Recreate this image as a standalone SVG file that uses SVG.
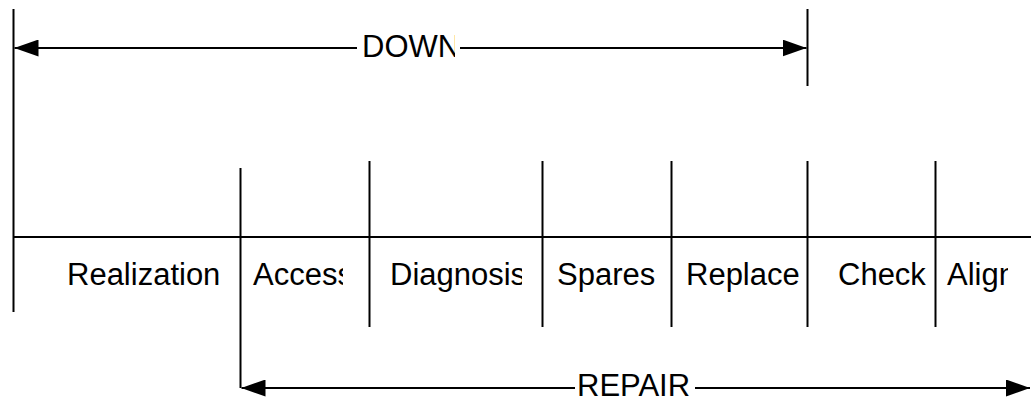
<svg xmlns="http://www.w3.org/2000/svg" width="1031" height="399" viewBox="0 0 1031 399">
  <style>
    .ln { stroke: #000; stroke-width: 2; fill: none; }
    .lbl { font-family: "Liberation Sans", Arial, sans-serif; font-size: 31px; fill: #000; }
  </style>
  <defs>
    <marker id="arrow" viewBox="0 0 24 17" refX="24" refY="8.5" markerWidth="24" markerHeight="17" markerUnits="userSpaceOnUse" orient="auto-start-reverse">
      <path d="M0,0 L24,8.5 L0,17 Z" fill="#000"/>
    </marker>
    <clipPath id="clip-down"><rect x="340" y="20" width="115" height="50"/></clipPath>
    <clipPath id="clip-access"><rect x="241" y="250" width="102" height="50"/></clipPath>
    <clipPath id="clip-diag"><rect x="370" y="250" width="152" height="50"/></clipPath>
    <clipPath id="clip-replace"><rect x="672" y="250" width="130" height="50"/></clipPath>
    <clipPath id="clip-align"><rect x="936" y="250" width="72" height="50"/></clipPath>
  </defs>

  <!-- time axis and phase dividers -->
  <g id="axis">
    <line class="ln" x1="13.5" y1="9" x2="13.5" y2="312"/>
    <line class="ln" x1="13.5" y1="237" x2="1031" y2="237"/>
    <line class="ln" x1="240.5" y1="168" x2="240.5" y2="388"/>
    <line class="ln" x1="369.5" y1="161" x2="369.5" y2="327"/>
    <line class="ln" x1="542.5" y1="161" x2="542.5" y2="327"/>
    <line class="ln" x1="671.5" y1="161" x2="671.5" y2="327"/>
    <line class="ln" x1="807.5" y1="9" x2="807.5" y2="86"/>
    <line class="ln" x1="807.5" y1="161" x2="807.5" y2="327"/>
    <line class="ln" x1="935.5" y1="161" x2="935.5" y2="327"/>
  </g>

  <!-- phase labels -->
  <g id="realization"><text class="lbl" x="67" y="285">Realization</text></g>
  <g id="access"><text class="lbl" x="253" y="285" clip-path="url(#clip-access)">Access</text></g>
  <g id="diagnosis"><text class="lbl" x="390" y="285" clip-path="url(#clip-diag)">Diagnosis</text></g>
  <g id="spares"><text class="lbl" x="557" y="285">Spares</text></g>
  <g id="replace"><text class="lbl" x="686" y="285" clip-path="url(#clip-replace)">Replace</text></g>
  <g id="check"><text class="lbl" x="838" y="285">Check</text></g>
  <g id="align"><text class="lbl" x="947" y="285" clip-path="url(#clip-align)">Align</text></g>

  <!-- span connectors -->
  <g id="connectors">
    <line class="ln" x1="357" y1="48" x2="14.5" y2="48" marker-end="url(#arrow)"/>
    <line class="ln" x1="460" y1="48" x2="806.5" y2="48" marker-end="url(#arrow)"/>
    <line class="ln" x1="575" y1="388" x2="241.5" y2="388" marker-end="url(#arrow)"/>
    <line class="ln" x1="695" y1="388" x2="1030" y2="388" marker-end="url(#arrow)"/>
  </g>

  <g id="down"><text class="lbl" x="362" y="57" clip-path="url(#clip-down)">DOWN</text></g>
  <g id="repair"><text class="lbl" x="577" y="396">REPAIR</text></g>
</svg>
